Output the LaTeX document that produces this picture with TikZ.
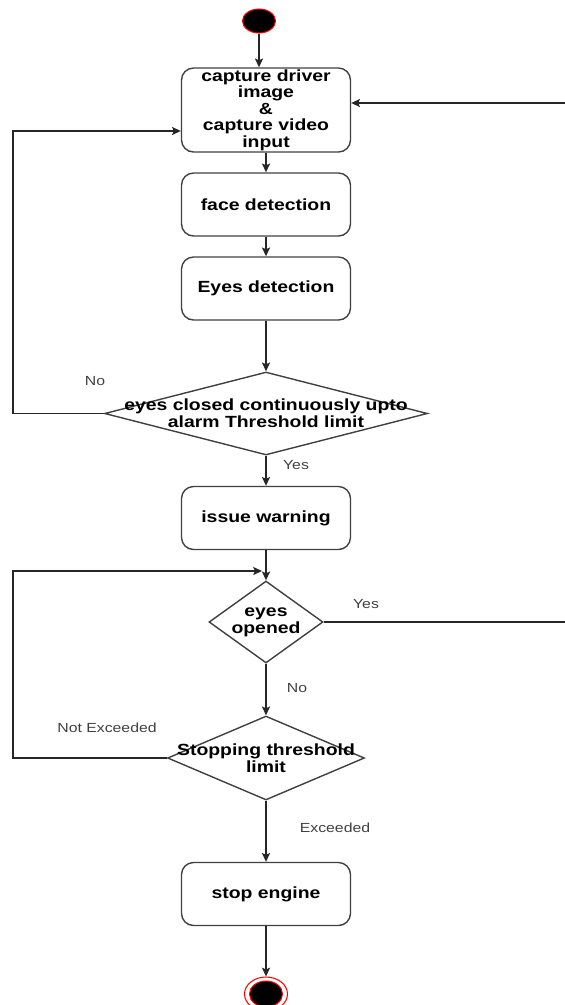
\documentclass[tikz,border=0pt]{standalone}
\usepackage{fontspec}
\newfontfamily\flowfont[FakeStretch=1.2]{Liberation Sans}
\usetikzlibrary{shapes.geometric,arrows.meta}

\tikzset{
  actbox/.style={draw=black!75, rounded corners=0.24cm, minimum width=3.38cm,
    minimum height=1.26cm, inner sep=0pt, align=center,
    font=\flowfont\bfseries\fontsize{9.2}{9.4}\selectfont},
  decision/.style={diamond, draw=black!75, inner sep=0pt},
  dtext/.style={align=center, inner sep=0pt,
    font=\flowfont\bfseries\fontsize{9.2}{9.6}\selectfont},
  guard/.style={text=black!75, inner sep=1pt,
    font=\flowfont\fontsize{7.5}{9}\selectfont},
  flow/.style={draw=black!85, -{Stealth[length=5pt,width=4.6pt,inset=1pt]}},
  plain/.style={draw=black!85}
}

\begin{document}
\begin{tikzpicture}[x=0.02cm, y=-0.02cm, line width=0.8pt]
  \useasboundingbox (0,0) rectangle (565,1005);

  % states
  \node[ellipse, fill=black, draw=red, line width=0.6pt, minimum width=0.66cm,
    minimum height=0.48cm, inner sep=0pt] (start) at (259,21) {};
  \node[actbox, minimum height=1.68cm] (capture) at (266,110)
    {capture driver\\image\\\&\\capture video\\input};
  \node[actbox] (face) at (266,204.5) {face detection};
  \node[actbox] (eyes) at (266,288.5) {Eyes detection};
  \node[decision, minimum width=6.46cm, minimum height=1.66cm,
    label={[dtext]center:{eyes closed continuously upto\\alarm Threshold limit}}]
    (closed) at (266,413.5) {};
  \node[actbox] (warn) at (266,518) {issue warning};
  \node[decision, minimum width=2.28cm, minimum height=1.64cm,
    label={[dtext]center:{eyes\\opened}}] (opened) at (266,622) {};
  \node[decision, minimum width=3.94cm, minimum height=1.68cm,
    label={[dtext]center:{Stopping threshold\\limit}}] (limit) at (266,758) {};
  \node[actbox] (stop) at (266,894) {stop engine};
  \node[ellipse, draw=red, line width=0.6pt, minimum width=0.86cm,
    minimum height=0.68cm, inner sep=0pt] (finish) at (266,994) {};
  \node[ellipse, fill=black, draw=red, line width=0.6pt, minimum width=0.66cm,
    minimum height=0.52cm, inner sep=0pt] (finishdot) at (finish) {};

  % bends of the loops
  \coordinate (noloop) at (13,413.5);
  \coordinate (backin) at (568,103);
  \coordinate (retx) at (13,571);
  \coordinate (merge) at (262,571);

  % connectors
  \draw[flow] (start) -- (start |- capture.north);
  \draw[flow] (capture.south) -- (face.north);
  \draw[flow] (face.south) -- (eyes.north);
  \draw[flow] (eyes.south) -- (closed.north);
  \draw[flow] (closed.west) -- (noloop) |- ([yshift=-0.42cm]capture.west);
  \draw[flow] (closed.south) -- (warn.north);
  \draw[flow] (warn.south) -- (opened.north);
  \draw[flow] (opened.east) -| (backin) -- (backin -| capture.east);
  \draw[flow] (opened.south) -- (limit.north);
  \draw[flow] (limit.west) -| (retx) -- (merge);
  \draw[flow] (limit.south) -- (stop.north);
  \draw[flow] (stop.south) -- (finish.north);

  % guards
  \node[guard] (nofirst) at (95,381) {No};
  \node[guard] (yesfirst) at (296,465) {Yes};
  \node[guard] (yesopen) at (366,604) {Yes};
  \node[guard] (noopen) at (297,688) {No};
  \node[guard] (notexc) at (107,728) {Not Exceeded};
  \node[guard] (exc) at (335,828) {Exceeded};
\end{tikzpicture}
\end{document}
